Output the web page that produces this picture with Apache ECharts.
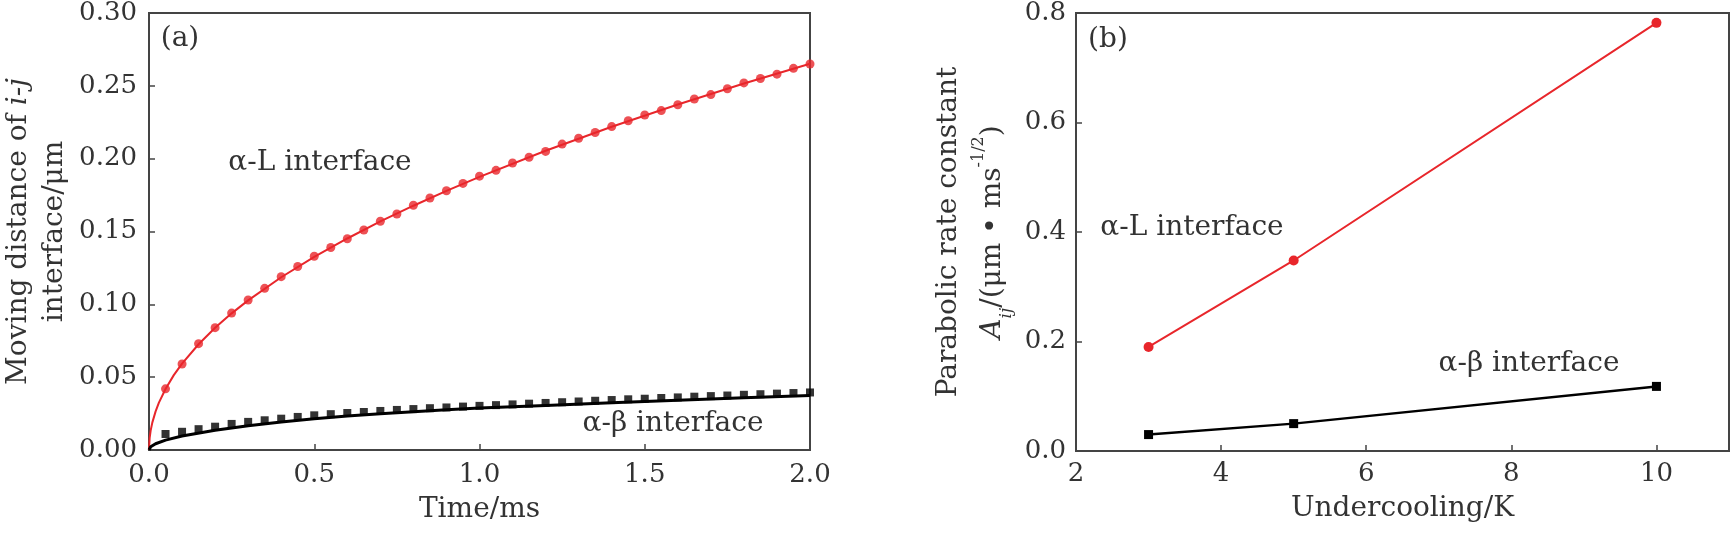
<!DOCTYPE html>
<html>
<head>
<meta charset="utf-8">
<script src="https://cdn.jsdelivr.net/npm/echarts@6/dist/echarts.min.js"></script>
<style>
html,body{margin:0;padding:0;background:#fff}
#chart{width:1730px;height:533px}
</style>
</head>
<body>
<div id="chart"></div>
<script>
// (a) moving distance vs time, undercooling 3 K
var timeMarks = [0.05,0.10,0.15,0.20,0.25,0.30,0.35,0.40,0.45,0.50,0.55,0.60,0.65,0.70,0.75,0.80,0.85,0.90,0.95,1.00,
                 1.05,1.10,1.15,1.20,1.25,1.30,1.35,1.40,1.45,1.50,1.55,1.60,1.65,1.70,1.75,1.80,1.85,1.90,1.95,2.00];
var alphaLMarks = [0.042,0.059,0.073,0.084,0.094,0.103,0.111,0.119,0.126,0.133,0.139,0.145,0.151,0.157,0.162,0.168,0.173,0.178,0.183,0.188,
                   0.192,0.197,0.201,0.205,0.210,0.214,0.218,0.222,0.226,0.230,0.233,0.237,0.241,0.244,0.248,0.252,0.255,0.258,0.262,0.265];
var alphaBetaMarks = [0.0110,0.0125,0.0143,0.0160,0.0179,0.0193,0.0204,0.0215,0.0227,0.0238,0.0246,0.0254,0.0261,0.0268,0.0275,0.0281,0.0287,0.0292,0.0298,0.0303,
                      0.0308,0.0313,0.0318,0.0323,0.0328,0.0333,0.0338,0.0343,0.0348,0.0352,0.0357,0.0361,0.0366,0.0370,0.0374,0.0379,0.0383,0.0387,0.0391,0.0395];

// fitted curves
var fitTimeL = [0,0.002,0.005,0.01,0.02,0.03,0.05,0.075,0.1,0.15,0.2,0.25,0.3,0.4,0.5,0.6,0.7,0.8,0.9,1.0,1.2,1.4,1.6,1.8,2.0];
var fitAlphaL = [0,0.0084,0.0133,0.0188,0.0265,0.0325,0.0419,0.0514,0.0593,0.0726,0.0839,0.0938,0.1027,0.1186,0.1326,0.1452,0.1569,0.1677,0.1779,0.1875,0.2054,0.2219,0.2372,0.2516,0.2652];
var fitTimeB = [0,0.005,0.01,0.02,0.05,0.1,0.2,0.3,0.4,0.5,0.6,0.7,0.8,0.9,1.0,1.2,1.4,1.6,1.8,2.0];
var fitAlphaBeta = [0,0.0022,0.0030,0.0043,0.0068,0.0096,0.0136,0.0167,0.0192,0.0215,0.0233,0.0249,0.0263,0.0276,0.0288,0.0306,0.0324,0.0341,0.0358,0.0374];

// (b) parabolic rate constant vs undercooling
var undercooling = [3, 5, 10];
var rateAlphaL = [0.190, 0.348, 0.782];
var rateAlphaBeta = [0.030, 0.050, 0.118];

var FONT = 'DejaVu Serif';
var RED = '#e8262b';
var AXIS = '#444';
var TEXT = '#333';

function pairs(xs, ys) {
    return xs.map(function (x, i) { return [x, ys[i]]; });
}

function axisBase(fmt, margin) {
    return {
        axisLine: {show: true, onZero: false, lineStyle: {color: AXIS, width: 2}},
        axisTick: {show: true, inside: true, length: 6, lineStyle: {color: AXIS, width: 1.5}},
        splitLine: {show: false},
        axisLabel: {
            color: TEXT, fontFamily: FONT, fontSize: 26, margin: margin,
            formatter: fmt
        },
        nameTextStyle: {color: TEXT, fontFamily: FONT, fontSize: 28}
    };
}

function ext(a, b) { return Object.assign({}, a, b); }

var myChart = echarts.init(document.getElementById('chart'));
var option = {
    animation: false,
    backgroundColor: '#fff',
    grid: [
        {left: 149, top: 9, width: 661, height: 441, show: true, borderColor: AXIS, borderWidth: 2},
        {left: 1076, top: 9, width: 653, height: 442, show: true, borderColor: AXIS, borderWidth: 2}
    ],
    xAxis: [
        ext(axisBase(function (v) { return v.toFixed(1); }, 12), {
            gridIndex: 0, type: 'value', min: 0, max: 2, interval: 0.5,
            name: 'Time/ms', nameLocation: 'middle', nameGap: 46
        }),
        ext(axisBase(null, 10), {
            gridIndex: 1, type: 'value', min: 2, max: 11, interval: 2,
            name: 'Undercooling/K', nameLocation: 'middle', nameGap: 44
        })
    ],
    yAxis: [
        ext(axisBase(function (v) { return v.toFixed(2); }, 12), {
            gridIndex: 0, type: 'value', min: 0, max: 0.3, interval: 0.05,
            name: 'Moving distance of {it|i-j}\ninterface/μm',
            nameLocation: 'middle', nameGap: 76, nameRotate: 90,
            nameTextStyle: {
                color: TEXT, fontFamily: FONT, fontSize: 28, lineHeight: 36,
                rich: {
                    it: {color: TEXT, fontFamily: FONT, fontSize: 28, fontStyle: 'italic', lineHeight: 36}
                }
            }
        }),
        ext(axisBase(function (v) { return v.toFixed(1); }, 10), {
            gridIndex: 1, type: 'value', min: 0, max: 0.8, interval: 0.2,
            name: '{n|Parabolic rate constant}\n{it|A}{sub|ij}{n|/(μm • ms}{sup|-1/2}{n|)}',
            nameLocation: 'middle', nameGap: 61, nameRotate: 90,
            nameTextStyle: {
                color: TEXT, fontFamily: FONT, fontSize: 28, lineHeight: 44,
                rich: {
                    n: {color: TEXT, fontFamily: FONT, fontSize: 28, lineHeight: 44},
                    it: {color: TEXT, fontFamily: FONT, fontSize: 28, fontStyle: 'italic', lineHeight: 44},
                    sub: {color: TEXT, fontFamily: FONT, fontSize: 17, fontStyle: 'italic', lineHeight: 20, verticalAlign: 'bottom'},
                    sup: {color: TEXT, fontFamily: FONT, fontSize: 16, lineHeight: 22, verticalAlign: 'top'}
                }
            }
        })
    ],
    series: [
        {
            name: 'α-L fit', type: 'line', xAxisIndex: 0, yAxisIndex: 0,
            data: pairs(fitTimeL, fitAlphaL), showSymbol: false, smooth: false,
            lineStyle: {color: RED, width: 2}, z: 2
        },
        {
            name: 'α-L interface', type: 'scatter', xAxisIndex: 0, yAxisIndex: 0,
            data: pairs(timeMarks, alphaLMarks), symbol: 'circle', symbolSize: 9,
            itemStyle: {color: RED}, z: 3
        },
        {
            name: 'α-β fit', type: 'line', xAxisIndex: 0, yAxisIndex: 0,
            data: pairs(fitTimeB, fitAlphaBeta), showSymbol: false, smooth: false,
            lineStyle: {color: '#000', width: 3}, z: 2
        },
        {
            name: 'α-β interface', type: 'scatter', xAxisIndex: 0, yAxisIndex: 0,
            data: pairs(timeMarks, alphaBetaMarks), symbol: 'rect', symbolSize: 8,
            itemStyle: {color: '#000'}, z: 3
        },
        {
            name: 'α-L rate', type: 'line', xAxisIndex: 1, yAxisIndex: 1,
            data: pairs(undercooling, rateAlphaL), symbol: 'circle', symbolSize: 10,
            lineStyle: {color: RED, width: 2}, itemStyle: {color: RED}
        },
        {
            name: 'α-β rate', type: 'line', xAxisIndex: 1, yAxisIndex: 1,
            data: pairs(undercooling, rateAlphaBeta), symbol: 'rect', symbolSize: 9,
            lineStyle: {color: '#000', width: 2.5}, itemStyle: {color: '#000'}
        }
    ],
    graphic: [
        {type: 'text', x: 180, y: 39, style: {text: '(a)', font: '28px "DejaVu Serif"', fill: TEXT, align: 'center', verticalAlign: 'middle'}},
        {type: 'text', x: 320, y: 163, style: {text: 'α-L interface', font: '28px "DejaVu Serif"', fill: TEXT, align: 'center', verticalAlign: 'middle'}},
        {type: 'text', x: 673, y: 424, style: {text: 'α-β interface', font: '28px "DejaVu Serif"', fill: TEXT, align: 'center', verticalAlign: 'middle'}},
        {type: 'text', x: 1108, y: 40, style: {text: '(b)', font: '28px "DejaVu Serif"', fill: TEXT, align: 'center', verticalAlign: 'middle'}},
        {type: 'text', x: 1192, y: 228, style: {text: 'α-L interface', font: '28px "DejaVu Serif"', fill: TEXT, align: 'center', verticalAlign: 'middle'}},
        {type: 'text', x: 1529, y: 364, style: {text: 'α-β interface', font: '28px "DejaVu Serif"', fill: TEXT, align: 'center', verticalAlign: 'middle'}}
    ]
};
option.xAxis[1].axisLabel.showMaxLabel = false;
myChart.setOption(option);
</script>
</body>
</html>
